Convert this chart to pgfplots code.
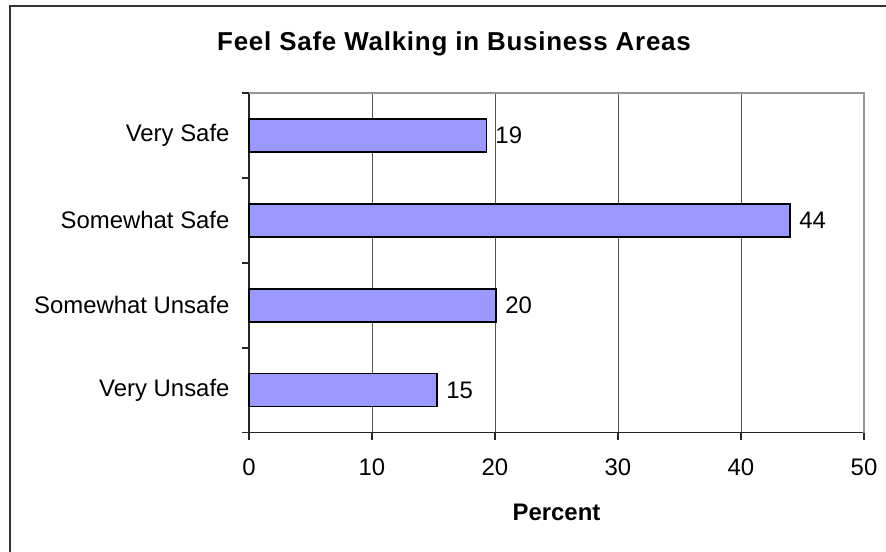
\documentclass[border=0pt]{standalone}
\usepackage{fontspec}
\setmainfont{Liberation Sans}
\usepackage{pgfplots}
\pgfplotsset{compat=1.18}
\definecolor{barblue}{RGB}{153,153,255}
\definecolor{framegray}{RGB}{51,51,51}
\definecolor{gridgray}{RGB}{85,85,85}
\definecolor{boxgray}{RGB}{150,150,150}

\begin{document}
\begin{tikzpicture}
\path[use as bounding box] (0,0) rectangle (886bp,-552bp);
\draw[framegray, line width=2bp] (10bp,-560bp) -- (10bp,-6bp) -- (890bp,-6bp);
\node[anchor=base, font=\fontsize{26}{30}\selectfont\bfseries\addfontfeatures{LetterSpace=3}] at (454bp,-50bp) {Feel Safe Walking in Business Areas};
\begin{axis}[
  at={(249bp,-432.7bp)}, anchor=south west,
  scale only axis, width=615bp, height=339.7bp,
  xbar, xmin=0, xmax=50, ymin=0.5, ymax=4.5,
  axis lines=left, axis line style={-, line width=1.5bp, black!85},
  xtick={0,10,...,50}, ytick={1,2,3,4},
  yticklabels={Very Unsafe, Somewhat Unsafe, Somewhat Safe, Very Safe},
  minor ytick={0.5,1.5,2.5,3.5,4.5},
  tick align=outside,
  major tick length=7bp, minor tick length=7bp,
  major y tick style={draw=none},
  minor y tick style={line width=1.5bp, black!85},
  major x tick style={line width=1.5bp, black!85},
  xmajorgrids, major x grid style={gridgray, line width=1bp},
  bar width=33bp,
  point meta=x,
  nodes near coords={\pgfmathprintnumber[fixed,precision=0]{\pgfplotspointmeta}},
  nodes near coords align=horizontal,
  every node near coord/.append style={font=\fontsize{24}{28}\selectfont, black, xshift=5bp},
  tick label style={font=\fontsize{24}{28}\selectfont},
  xticklabel style={yshift=-16bp},
  yticklabel style={xshift=-9bp},
  /pgf/number format/assume math mode=true,
  xlabel={Percent},
  xlabel style={font=\fontsize{24}{28}\selectfont\bfseries, yshift=-21bp},
  clip=false,
]
\addplot[fill=barblue, draw=black, line width=1.5bp] coordinates {(15.3,1) (20.1,2) (44.0,3) (19.3,4)};
\draw[boxgray, line width=2bp] (axis cs:0,4.5) -- (axis cs:50,4.5) -- (axis cs:50,0.5);
\end{axis}
\end{tikzpicture}
\end{document}
